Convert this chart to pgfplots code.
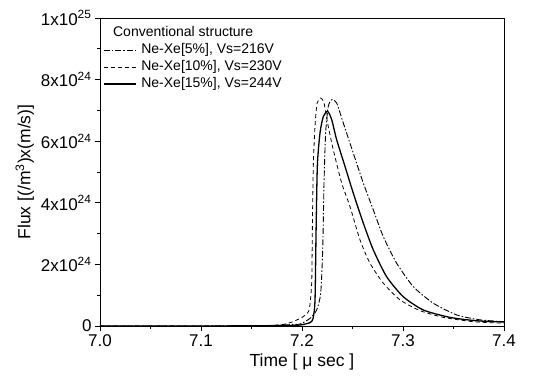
\documentclass[border=0pt]{standalone}
\usepackage{pgfplots}
\pgfplotsset{compat=1.18}
\usepackage{fontspec}
\setmainfont{Liberation Sans}
\usetikzlibrary{calc}

\pgfplotstableread{
t y
7.000 0.00
7.100 0.00
7.160 0.01
7.175 0.03
7.1815 0.05
7.191 0.14
7.201 0.30
7.207 0.52
7.2096 1.39
7.2102 3.00
7.2112 5.20
7.2129 6.50
7.2150 7.24
7.2185 7.40
7.2218 7.24
7.2260 6.48
7.2310 5.72
7.2393 4.64
7.2475 3.88
7.2574 2.80
7.2673 2.04
7.2805 1.39
7.2970 0.85
7.3168 0.50
7.3400 0.28
7.3696 0.14
7.4000 0.09
}\tenpct

\pgfplotstableread{
t y
7.000 0.00
7.100 0.00
7.170 0.01
7.190 0.02
7.198 0.03
7.208 0.11
7.211 0.25
7.2129 0.85
7.2139 3.00
7.2152 5.20
7.2178 6.26
7.2211 6.80
7.2254 6.97
7.2294 6.70
7.2343 6.05
7.2426 5.18
7.2508 4.31
7.2607 3.34
7.2706 2.47
7.2838 1.60
7.3003 0.95
7.3201 0.52
7.3465 0.28
7.3729 0.17
7.4000 0.13
}\fifteenpct

\pgfplotstableread{
t y
7.000 0.00
7.100 0.00
7.170 0.02
7.185 0.04
7.198 0.065
7.208 0.25
7.2145 0.52
7.2185 1.06
7.2205 2.47
7.2218 4.64
7.2234 6.26
7.2260 7.13
7.2297 7.35
7.2343 7.24
7.2409 6.59
7.2508 5.61
7.2607 4.64
7.2706 3.77
7.2805 2.90
7.2937 2.04
7.3102 1.28
7.3300 0.74
7.3531 0.36
7.3762 0.20
7.4000 0.14
}\fivepct

\begin{document}
\begin{tikzpicture}
\begin{axis}[
  name=main,
  scale only axis, width=404pt, height=308pt,
  xmin=7.0, xmax=7.4, ymin=0, ymax=10,
  xtick={7.0,7.1,7.2,7.3,7.4}, xticklabels={7.0,7.1,7.2,7.3,7.4},
  minor x tick num=1,
  ytick={0,2,4,6,8,10},
  yticklabels={0,2x10\textsuperscript{24},4x10\textsuperscript{24},6x10\textsuperscript{24},8x10\textsuperscript{24},1x10\textsuperscript{25}},
  minor y tick num=1,
  tick align=outside, xtick pos=bottom, ytick pos=left,
  major tick length=5pt, minor tick length=3pt,
  tick style={black, line width=0.8pt},
  axis line style={line width=0.8pt},
  ticklabel style={font=\fontsize{17}{20}\selectfont},
  xlabel={Time [ μ sec ]}, ylabel={Flux [(/m\textsuperscript{3})x(m/s)]},
  label style={font=\fontsize{17.5}{20}\selectfont},
  legend cell align=left,
  legend style={at={(0.007,0.924)}, anchor=north west, draw=none, fill=none,
    inner sep=0pt, font=\fontsize{14}{17}\selectfont,
    nodes={inner sep=2pt, text height=10pt, text depth=3pt}},
  legend image code/.code={\draw[#1] (0pt,0pt) -- (32pt,0pt); \path (35pt,0pt);},
]
\addplot[black, line width=0.9pt, smooth, tension=0.4, dash pattern=on 6pt off 2pt on 1.5pt off 2pt] table {\fivepct};
\addlegendentry{Ne-Xe[5\%], Vs=216V}
\addplot[black, line width=0.8pt, smooth, tension=0.4, dash pattern=on 4pt off 3pt] table {\tenpct};
\addlegendentry{Ne-Xe[10\%], Vs=230V}
\addplot[black, line width=1.3pt, smooth, tension=0.4] table {\fifteenpct};
\addlegendentry{Ne-Xe[15\%], Vs=244V}
\node[anchor=west, font=\fontsize{14}{17}\selectfont, inner sep=0pt] at (rel axis cs:0.032,0.955) {Conventional structure};
\end{axis}
\useasboundingbox ($(main.south west)+(-100pt,-55pt)$) rectangle ($(main.north east)+(39pt,18pt)$);
\end{tikzpicture}
\end{document}
